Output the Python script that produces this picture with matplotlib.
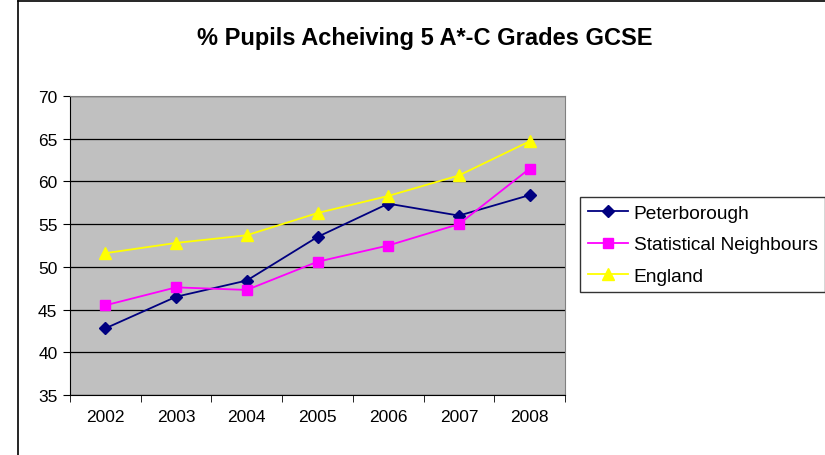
import matplotlib
matplotlib.use("Agg")
from matplotlib import pyplot as plt
from matplotlib.lines import Line2D

plt.rcParams['font.family'] = ['Liberation Sans', 'DejaVu Sans']

years = ["2002", "2003", "2004", "2005", "2006", "2007", "2008"]
peterborough = [42.8, 46.5, 48.4, 53.5, 57.4, 56.0, 58.4]
stat_neighbours = [45.5, 47.6, 47.3, 50.6, 52.5, 55.0, 61.5]
england = [51.6, 52.8, 53.7, 56.3, 58.3, 60.7, 64.7]

fig = plt.figure(figsize=(8.25, 4.56), dpi=100)
ax = fig.add_axes([70/825, 1-396/456, 495/825, 299/456])
ax.set_facecolor("#c0c0c0")

x = range(len(years))
ax.plot(x, peterborough, color="#000080", marker="D", markersize=6, lw=1.3, label="Peterborough")
ax.plot(x, stat_neighbours, color="#ff00ff", marker="s", markersize=6.5, lw=1.3, label="Statistical Neighbours")
ax.plot(x, england, color="#ffff00", marker="^", markersize=8, lw=1.3, label="England")

ax.set_ylim(35, 70)
ax.set_yticks(range(35, 71, 5))
ax.set_xlim(-0.5, 6.5)
ax.set_xticks(list(x))
ax.set_xticklabels(years)
ax.set_xticks([i - 0.5 for i in range(len(years) + 1)], minor=True)
ax.tick_params(axis="x", which="major", length=0, pad=10, labelsize=12.5)
ax.tick_params(axis="x", which="minor", length=5, direction="out")
ax.tick_params(axis="y", length=5, direction="out", labelsize=12.5, pad=4)
ax.yaxis.grid(True, color="black", lw=0.9)
for s in ["top", "right"]:
    ax.spines[s].set_color("#808080")
for s in ["left", "bottom"]:
    ax.spines[s].set_color("black")

fig.text(425/825, 1-38/456, "% Pupils Acheiving 5 A*-C Grades GCSE",
         ha="center", va="center", fontsize=17, fontweight="bold")

# outer chart frame
fig.add_artist(Line2D([18/825, 18/825], [0, 1-2/456], color="black", lw=1.2))
fig.add_artist(Line2D([18/825, 1], [1-2/456, 1-2/456], color="black", lw=1.2))

leg = fig.legend(loc="upper left", bbox_to_anchor=(580/825, 1-198/456), frameon=True,
                 fancybox=False, edgecolor="black", fontsize=13.8, handlelength=2.1,
                 borderpad=0.4, labelspacing=0.72, handletextpad=0.3, borderaxespad=0)
leg.get_frame().set_linewidth(1)

fig.savefig("out.png", dpi=100)
